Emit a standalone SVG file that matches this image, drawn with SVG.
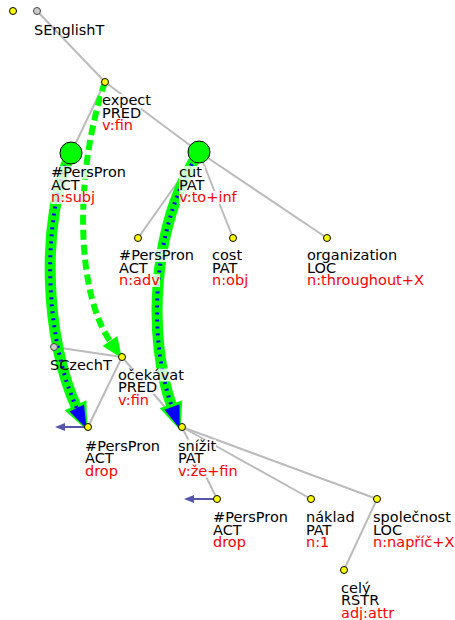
<svg xmlns="http://www.w3.org/2000/svg" width="455" height="620" viewBox="0 0 455 620">
<style>
text{font-family:"DejaVu Sans","Liberation Sans",sans-serif;font-size:14.5px;fill:#000}
text .r{fill:#ff0000}
.edge{stroke:#bbbbbb;stroke-width:2;fill:none}
.dot{fill:#ffff00;stroke:#000;stroke-width:1}
.root{fill:#cccccc;stroke:#444;stroke-width:1}
.big{fill:#00ff00;stroke:#000;stroke-width:1}
.bg{fill:#ffffff;fill-opacity:0.8}
.gsolid{stroke:#00ff00;stroke-width:11;fill:none}
.bdash{stroke:#0000ff;stroke-width:4;stroke-dasharray:2,5;fill:none}
.gdash{stroke:#00ff00;stroke-width:6;stroke-dasharray:10,5;fill:none}
.barrow{stroke:#5555aa;stroke-width:2;fill:none}
</style>
<defs>
<marker id="mg" markerUnits="userSpaceOnUse" orient="auto" markerWidth="40" markerHeight="40" refX="3" refY="20" viewBox="0 0 40 40" overflow="visible">
<polygon points="0,8 0,32 28,20" fill="#00ff00"/>
</marker>
<marker id="mb" markerUnits="userSpaceOnUse" orient="auto" markerWidth="40" markerHeight="40" refX="0" refY="20" viewBox="0 0 40 40" overflow="visible">
<polygon points="0,12 0,28 23,20" fill="#0000ff"/>
</marker>
<marker id="mgd" markerUnits="userSpaceOnUse" orient="auto" markerWidth="40" markerHeight="40" refX="0" refY="20" viewBox="0 0 40 40" overflow="visible">
<polygon points="0,11 0,29 21,20" fill="#00ff00"/>
</marker>
<marker id="ms" markerUnits="userSpaceOnUse" orient="auto" markerWidth="20" markerHeight="20" refX="0" refY="10" viewBox="0 0 20 20" overflow="visible">
<polygon points="0,6 0,14 10,10" fill="#5555aa"/>
</marker>
</defs>
<g id="connectors">
<line class="edge" x1="37" y1="11" x2="105" y2="82"/>
<line class="edge" x1="105" y1="82" x2="71" y2="153"/>
<line class="edge" x1="105" y1="82" x2="199" y2="152"/>
<line class="edge" x1="199" y1="152" x2="138" y2="238"/>
<line class="edge" x1="199" y1="152" x2="233" y2="238"/>
<line class="edge" x1="199" y1="152" x2="327" y2="238"/>
<line class="edge" x1="54" y1="347" x2="122" y2="357"/>
<line class="edge" x1="122" y1="357" x2="88" y2="427"/>
<line class="edge" x1="122" y1="357" x2="182" y2="427"/>
<line class="edge" x1="182" y1="427" x2="217" y2="499"/>
<line class="edge" x1="182" y1="427" x2="311" y2="499"/>
<line class="edge" x1="182" y1="427" x2="377" y2="499"/>
<line class="edge" x1="377" y1="499" x2="344" y2="570"/>
<path class="gsolid" d="M71,153 C40,220 45,340 76.8,408" marker-end="url(#mg)"/>
<path class="bdash" d="M71,153 C40,220 45,340 76.8,408" marker-end="url(#mb)"/>
<path class="gsolid" d="M199,152 C150,230 148,340 172,407" marker-end="url(#mg)"/>
<path class="bdash" d="M199,152 C150,230 148,340 172,407" marker-end="url(#mb)"/>
<path class="gdash" d="M105,82 C75,170 75,290 110,341" marker-end="url(#mgd)"/>
<line class="barrow" x1="88" y1="427" x2="65" y2="427" marker-end="url(#ms)"/>
<line class="barrow" x1="217" y1="499" x2="194" y2="499" marker-end="url(#ms)"/>
</g>
<g id="n0"><circle class="dot" cx="13" cy="11" r="3.5"/></g>
<g id="SEnglishT"><circle class="root" cx="37" cy="11" r="3.5"/>
<text x="34" y="35">SEnglishT</text></g>
<g id="expect"><circle class="dot" cx="105" cy="82" r="3.5"/>
<rect class="bg" x="102" y="94" width="49" height="13"/><rect class="bg" x="102" y="106.5" width="39" height="13"/><rect class="bg" x="102" y="119" width="32" height="13"/>
<text x="102" y="105">expect<tspan x="102" y="117.5">PRED</tspan><tspan class="r" x="102" y="130">v:fin</tspan></text></g>
<g id="perspron_subj"><circle class="big" cx="71" cy="153" r="11"/>
<rect class="bg" x="51" y="166" width="76" height="13"/><rect class="bg" x="51" y="178.5" width="29" height="13"/><rect class="bg" x="51" y="191" width="44" height="13"/>
<text x="51" y="177">#PersPron<tspan x="51" y="189.5">ACT</tspan><tspan class="r" x="51" y="202">n:subj</tspan></text></g>
<g id="cut"><circle class="big" cx="199" cy="152" r="11"/>
<rect class="bg" x="179" y="166" width="26" height="13"/><rect class="bg" x="179" y="178.5" width="26" height="13"/><rect class="bg" x="179" y="191" width="59" height="13"/>
<text x="179" y="177">cut<tspan x="179" y="189.5">PAT</tspan><tspan class="r" x="179" y="202">v:to+inf</tspan></text></g>
<g id="perspron_adv"><circle class="dot" cx="138" cy="238" r="3.5"/>
<rect class="bg" x="119" y="249" width="76" height="13"/><rect class="bg" x="119" y="261.5" width="29" height="13"/><rect class="bg" x="119" y="274" width="41" height="13"/>
<text x="119" y="260">#PersPron<tspan x="119" y="272.5">ACT</tspan><tspan class="r" x="119" y="285">n:adv</tspan></text></g>
<g id="cost"><circle class="dot" cx="233" cy="238" r="3.5"/>
<rect class="bg" x="212" y="249" width="30" height="13"/><rect class="bg" x="212" y="261.5" width="26" height="13"/><rect class="bg" x="212" y="274" width="36" height="13"/>
<text x="212" y="260">cost<tspan x="212" y="272.5">PAT</tspan><tspan class="r" x="212" y="285">n:obj</tspan></text></g>
<g id="organization"><circle class="dot" cx="327" cy="238" r="3.5"/>
<rect class="bg" x="307" y="249" width="91" height="13"/><rect class="bg" x="307" y="261.5" width="29" height="13"/><rect class="bg" x="307" y="274" width="122" height="13"/>
<text x="307" y="260">organization<tspan x="307" y="272.5">LOC</tspan><tspan class="r" x="307" y="285">n:throughout+X</tspan></text></g>
<g id="SCzechT"><circle class="root" cx="54" cy="347" r="3.5"/>
<text x="50" y="370">SCzechT</text></g>
<g id="ocekavat"><circle class="dot" cx="122" cy="357" r="3.5"/>
<rect class="bg" x="118" y="368.5" width="66" height="13"/><rect class="bg" x="118" y="381" width="39" height="13"/><rect class="bg" x="118" y="393.5" width="32" height="13"/>
<text x="118" y="379.5">očekávat<tspan x="118" y="392">PRED</tspan><tspan class="r" x="118" y="404.5">v:fin</tspan></text></g>
<g id="perspron_drop1"><circle class="dot" cx="88" cy="427" r="3.5"/>
<rect class="bg" x="85" y="439.5" width="76" height="13"/><rect class="bg" x="85" y="452" width="29" height="13"/><rect class="bg" x="85" y="464.5" width="33" height="13"/>
<text x="85" y="450.5">#PersPron<tspan x="85" y="463">ACT</tspan><tspan class="r" x="85" y="475.5">drop</tspan></text></g>
<g id="snizit"><circle class="dot" cx="182" cy="427" r="3.5"/>
<rect class="bg" x="178" y="439.5" width="38" height="13"/><rect class="bg" x="178" y="452" width="26" height="13"/><rect class="bg" x="178" y="464.5" width="60" height="13"/>
<text x="178" y="450.5">snížit<tspan x="178" y="463">PAT</tspan><tspan class="r" x="178" y="475.5">v:že+fin</tspan></text></g>
<g id="perspron_drop2"><circle class="dot" cx="217" cy="499" r="3.5"/>
<rect class="bg" x="213" y="511" width="76" height="13"/><rect class="bg" x="213" y="523.5" width="29" height="13"/><rect class="bg" x="213" y="536" width="33" height="13"/>
<text x="213" y="522">#PersPron<tspan x="213" y="534.5">ACT</tspan><tspan class="r" x="213" y="547">drop</tspan></text></g>
<g id="naklad"><circle class="dot" cx="311" cy="499" r="3.5"/>
<rect class="bg" x="306" y="511" width="49" height="13"/><rect class="bg" x="306" y="523.5" width="26" height="13"/><rect class="bg" x="306" y="536" width="27" height="13"/>
<text x="306" y="522">náklad<tspan x="306" y="534.5">PAT</tspan><tspan class="r" x="306" y="547">n:1</tspan></text></g>
<g id="spolecnost"><circle class="dot" cx="377" cy="499" r="3.5"/>
<rect class="bg" x="373" y="511" width="78" height="13"/><rect class="bg" x="373" y="523.5" width="29" height="13"/><rect class="bg" x="373" y="536" width="81" height="13"/>
<text x="373" y="522">společnost<tspan x="373" y="534.5">LOC</tspan><tspan class="r" x="373" y="547">n:napříč+X</tspan></text></g>
<g id="cely"><circle class="dot" cx="344" cy="570" r="3.5"/>
<rect class="bg" x="341" y="581.5" width="31" height="13"/><rect class="bg" x="341" y="594" width="41" height="13"/><rect class="bg" x="341" y="606.5" width="56" height="13"/>
<text x="341" y="592.5">celý<tspan x="341" y="605">RSTR</tspan><tspan class="r" x="341" y="617.5">adj:attr</tspan></text></g>
</svg>
